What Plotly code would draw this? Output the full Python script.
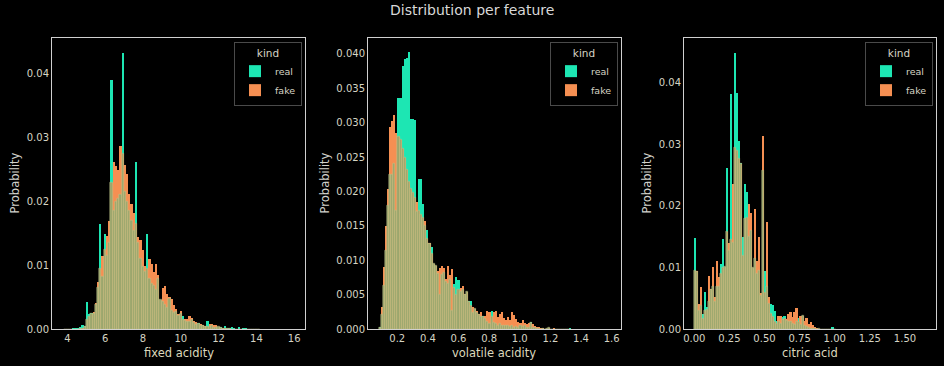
import numpy as np
import plotly.graph_objects as go

# ---------------- data ----------------
features = ["fixed acidity", "volatile acidity", "citric acid"]

# panel 1: fixed acidity  (bins start 3.8, width 0.118)
fa_bin_start = 3.8
fa_bin_width = 0.118
fa_real = [0, 0, 0, 0.0001, 0.0002, 0.0003, 0.0002, 0.0005, 0.0007, 0.0006,
           0.0043, 0.0025, 0.0026, 0.0024, 0.0038, 0.0065, 0.0165, 0.0083, 0.0150, 0.0115,
           0.0135, 0.0390, 0.0185, 0.0200, 0.0205, 0.0210, 0.0433, 0.0215, 0.0200, 0.0185,
           0.0170, 0.0155, 0.0263, 0.0135, 0.0110, 0.0098, 0.0090, 0.0149, 0.0080, 0.0072,
           0.0068, 0.0062, 0.0080, 0.0046, 0.0043, 0.0038, 0.0034, 0.0048, 0.0030, 0.0027,
           0.0028, 0.0022, 0.0025, 0.0022, 0.0013, 0.0012, 0.0012, 0.0015, 0.0010, 0.0007,
           0.0011, 0.0006, 0.0006, 0.0005, 0.0013, 0.0004, 0.0006, 0.0003, 0.0003, 0.0005,
           0.0004, 0.0002, 0.0006, 0.0002, 0.0003, 0.0004, 0.0002, 0.0001, 0.0004, 0.0001,
           0.0002, 0.0003, 0.0001, 0, 0, 0, 0, 0.0001]
fa_fake = [0, 0, 0, 0, 0, 0, 0, 0.0001, 0.0002, 0.0004,
           0.0015, 0.0020, 0.0025, 0.0028, 0.0042, 0.0075, 0.0095, 0.0115, 0.0125, 0.0147,
           0.0170, 0.0230, 0.0263, 0.0256, 0.0250, 0.0287, 0.0275, 0.0258, 0.0243, 0.0212,
           0.0196, 0.0183, 0.0165, 0.0145, 0.0140, 0.0124, 0.0100, 0.0095, 0.0110, 0.0103,
           0.0091, 0.0103, 0.0085, 0.0046, 0.0066, 0.0068, 0.0056, 0.0051, 0.0048, 0.0038,
           0.0033, 0.0025, 0.0029, 0.0015, 0.0017, 0.0017, 0.0021, 0.0019, 0.0013, 0.0012,
           0.0009, 0.0009, 0.0008, 0.0006, 0.0005, 0.0009, 0.0009, 0.0008, 0.0008, 0.0005,
           0.0003, 0.0002, 0.0002, 0.0001, 0.0001, 0, 0, 0, 0, 0,
           0, 0, 0, 0, 0, 0, 0, 0]

# panel 2: volatile acidity (bins start 0.08, width 0.0135)
va_bin_start = 0.08
va_bin_width = 0.0135
va_real = [0.0004, 0.0022, 0.0064, 0.0115, 0.0180, 0.0225, 0.0225, 0.0240, 0.0173, 0.0337,
           0.0337, 0.0383, 0.0393, 0.0395, 0.0403, 0.0306, 0.0306, 0.0305, 0.0171, 0.0219,
           0.0219, 0.0183, 0.0150, 0.0145, 0.0125, 0.0120, 0.0096, 0.0093, 0.0081, 0.0050,
           0.0080, 0.0082, 0.0070, 0.0066, 0.0072, 0.0028, 0.0066, 0.0077, 0.0072, 0.0055,
           0.0058, 0.0050, 0.0055, 0.0042, 0.0042, 0.0024, 0.0030, 0.0025, 0.0022, 0.0018,
           0.0020, 0.0015, 0.0012, 0.0009, 0.0028, 0.0010, 0.0009, 0.0006, 0.0008, 0.0006,
           0.0005, 0.0006, 0.0005, 0.0004, 0.0006, 0.0003, 0.0004, 0.0003, 0.0005, 0.0004,
           0.0006, 0.0003, 0.0003, 0.0012, 0.0003, 0.0002, 0.0001, 0.0001, 0, 0.0001,
           0, 0.0001, 0.0003, 0, 0, 0.0001, 0, 0, 0, 0,
           0, 0, 0.0002]
va_fake = [0.0002, 0.0033, 0.0091, 0.0150, 0.0204, 0.0294, 0.0303, 0.0312, 0.0285, 0.0280,
           0.0275, 0.0262, 0.0250, 0.0232, 0.0215, 0.0205, 0.0198, 0.0192, 0.0185, 0.0172,
           0.0166, 0.0163, 0.0158, 0.0132, 0.0126, 0.0110, 0.0096, 0.0093, 0.0085, 0.0089,
           0.0092, 0.0090, 0.0074, 0.0092, 0.0079, 0.0088, 0.0060, 0.0050, 0.0058, 0.0060,
           0.0064, 0.0052, 0.0055, 0.0040, 0.0034, 0.0033, 0.0030, 0.0028, 0.0023, 0.0026,
           0.0019, 0.0020, 0.0027, 0.0026, 0.0018, 0.0026, 0.0028, 0.0018, 0.0023, 0.0026,
           0.0017, 0.0014, 0.0018, 0.0014, 0.0026, 0.0022, 0.0016, 0.0012, 0.0010, 0.0014,
           0.0010, 0.0008, 0.0010, 0.0010, 0.0008, 0.0005, 0.0004, 0.0004, 0.0003, 0.0003,
           0.0001, 0.0001, 0.0002, 0.0001, 0.0003, 0, 0, 0, 0, 0,
           0, 0, 0]

# panel 3: citric acid (bins start 0.0, width 0.01419)
ca_bin_start = 0.0
ca_bin_width = 0.01419
ca_real = [0.0149, 0.0094, 0.0030, 0.0038, 0.0026, 0.0061, 0.0037, 0.0045, 0.0064, 0.0069,
           0.0045, 0.0069, 0.0070, 0.0107, 0.0147, 0.0101, 0.0262, 0.0128, 0.0382, 0.0140,
           0.0449, 0.0384, 0.0306, 0.0270, 0.0150, 0.0236, 0.0223, 0.0150, 0.0160, 0.0100,
           0.0115, 0.0090, 0.0095, 0.0055, 0.0258, 0.0095, 0.0070, 0.0042, 0.0042, 0.0041,
           0.0031, 0.0015, 0.0012, 0.0010, 0.0020, 0.0022, 0.0015, 0.0012, 0.0012, 0.0010,
           0.0008, 0.0012, 0.0019, 0.0008, 0.0022, 0.0006, 0.0005, 0.0003, 0.0002, 0.0001,
           0.0001, 0, 0.0001, 0, 0, 0, 0, 0, 0, 0.0004, 0]
ca_fake = [0.0096, 0.0096, 0.0042, 0.0069, 0.0018, 0.0030, 0.0032, 0.0088, 0.0066, 0.0101,
           0.0053, 0.0112, 0.0085, 0.0090, 0.0100, 0.0101, 0.0158, 0.0140, 0.0145, 0.0236,
           0.0295, 0.0290, 0.0277, 0.0268, 0.0120, 0.0180, 0.0182, 0.0204, 0.0190, 0.0100,
           0.0196, 0.0112, 0.0150, 0.0060, 0.0314, 0.0060, 0.0174, 0.0053, 0.0025, 0.0020,
           0.0012, 0.0010, 0.0022, 0.0022, 0.0016, 0.0018, 0.0018, 0.0026, 0.0029, 0.0020,
           0.0029, 0.0036, 0.0012, 0.0022, 0.0022, 0.0015, 0.0019, 0.0010, 0.0012, 0.0007,
           0.0004, 0.0003, 0.0001, 0, 0, 0, 0, 0, 0, 0, 0]

# axis ticks
fa_xticks = [4, 6, 8, 10, 12, 14, 16]
fa_yticks = [0.0, 0.01, 0.02, 0.03, 0.04]
va_xticks = [0.2, 0.4, 0.6, 0.8, 1.0, 1.2, 1.4, 1.6]
va_yticks = [0.0, 0.005, 0.010, 0.015, 0.020, 0.025, 0.030, 0.035, 0.040]
ca_xticks = [0.0, 0.25, 0.5, 0.75, 1.0, 1.25, 1.5]
ca_yticks = [0.0, 0.01, 0.02, 0.03, 0.04]

# ---------------- style ----------------
W, H = 944, 366
REAL_C = "#1de6b3"
FAKE_C = "#f58f52"
OVER_C = "#9ca66d"
TEXT_C = "#d6d4c4"
FRAME_C = "#d0d0d0"
FONT = "DejaVu Sans"

panels = [
    dict(real=fa_real, fake=fa_fake, start=fa_bin_start, w=fa_bin_width,
         xt=fa_xticks, xtt=[str(v) for v in fa_xticks],
         yt=fa_yticks, ytt=[f"{v:.2f}" for v in fa_yticks],
         px=(52, 305), xr=[3.19, 16.57], yr=[0, 0.0456], ytitle_px=15),
    dict(real=va_real, fake=va_fake, start=va_bin_start, w=va_bin_width,
         xt=va_xticks, xtt=[f"{v:.1f}" for v in va_xticks],
         yt=va_yticks, ytt=[f"{v:.3f}" for v in va_yticks],
         px=(368, 621), xr=[0.009, 1.661], yr=[0, 0.04236], ytitle_px=325),
    dict(real=ca_real, fake=ca_fake, start=ca_bin_start, w=ca_bin_width,
         xt=ca_xticks, xtt=[f"{v:.2f}" for v in ca_xticks],
         yt=ca_yticks, ytt=[f"{v:.2f}" for v in ca_yticks],
         px=(684, 936), xr=[-0.073, 1.721], yr=[0, 0.0473], ytitle_px=647),
]

y_bot, y_top = 329.3, 37.5
ydom = [1 - y_bot / H, 1 - y_top / H]

fig = go.Figure()
annotations = []
layout_axes = {}

for k, p in enumerate(panels):
    n = k + 1
    sfx = "" if n == 1 else str(n)
    real = np.array(p["real"], dtype=float)
    fake = np.array(p["fake"], dtype=float)
    centers = p["start"] + p["w"] * (np.arange(len(real)) + 0.5)
    overlap = np.minimum(real, fake)
    leg = "legend" if n == 1 else f"legend{n}"
    common = dict(xaxis=f"x{sfx}", yaxis=f"y{sfx}", width=p["w"], legend=leg)
    fig.add_trace(go.Bar(x=centers, y=real, name="real", marker=dict(color=REAL_C, line=dict(width=0)),
                         **common))
    fig.add_trace(go.Bar(x=centers, y=fake, name="fake", marker=dict(color=FAKE_C, line=dict(width=0)),
                         **common))
    fig.add_trace(go.Bar(x=centers, y=overlap, name="overlap", showlegend=False,
                         marker=dict(color=OVER_C, line=dict(width=0.6, color="rgba(210,212,155,0.55)")),
                         **common))

    x0, x1 = p["px"]
    xdom = [x0 / W, x1 / W]
    layout_axes[f"xaxis{sfx}"] = dict(
        domain=xdom, anchor=f"y{sfx}", range=p["xr"], tickvals=p["xt"], ticktext=p["xtt"],
        showgrid=False, zeroline=False, showline=True, mirror=True, linecolor=FRAME_C, linewidth=1,
        ticks="", tickfont=dict(size=10, color=TEXT_C, family=FONT), automargin=False)
    layout_axes[f"yaxis{sfx}"] = dict(
        domain=ydom, anchor=f"x{sfx}", range=p["yr"], tickvals=p["yt"], ticktext=p["ytt"],
        showgrid=False, zeroline=False, showline=True, mirror=True, linecolor=FRAME_C, linewidth=1,
        ticks="", tickfont=dict(size=10, color=TEXT_C, family=FONT), automargin=False)

    # axis titles
    annotations.append(dict(text=features[k], xref="paper", yref="paper",
                            x=(x0 + x1) / 2 / W, y=1 - 353 / H, xanchor="center", yanchor="middle",
                            showarrow=False, font=dict(size=11.5, color="#dcd8bc", family=FONT)))
    annotations.append(dict(text="Probability", xref="paper", yref="paper",
                            x=p["ytitle_px"] / W, y=1 - ((y_bot + y_top) / 2) / H, textangle=-90,
                            xanchor="center", yanchor="middle", showarrow=False,
                            font=dict(size=11.5, color="#d2d2cc", family=FONT)))

    layout_axes[leg] = dict(
        x=(x1 - 3) / W, xanchor="right", y=1 - 42 / H, yanchor="top",
        bgcolor="rgba(0,0,0,0.85)", bordercolor="#4a4a4a", borderwidth=1,
        font=dict(size=9.5, color=TEXT_C, family=FONT),
        title=dict(text="kind", side="top center", font=dict(size=10.5, color=TEXT_C, family=FONT)),
        itemwidth=30, tracegroupgap=0, traceorder="normal")

annotations.append(dict(text="Distribution per feature", xref="paper", yref="paper",
                        x=0.5, y=1 - 10 / H, xanchor="center", yanchor="middle", showarrow=False,
                        font=dict(size=14, color="#d8d8d8", family=FONT)))

fig.update_layout(
    width=W, height=H, template="none",
    paper_bgcolor="black", plot_bgcolor="black",
    margin=dict(l=0, r=0, t=0, b=0),
    barmode="overlay", bargap=0,
    annotations=annotations,
    font=dict(family=FONT, color=TEXT_C),
    **layout_axes,
)

fig.write_html("out.html",
               config={"displayModeBar": False},
               post_script="document.body.style.margin='0';document.body.style.background='black';")
